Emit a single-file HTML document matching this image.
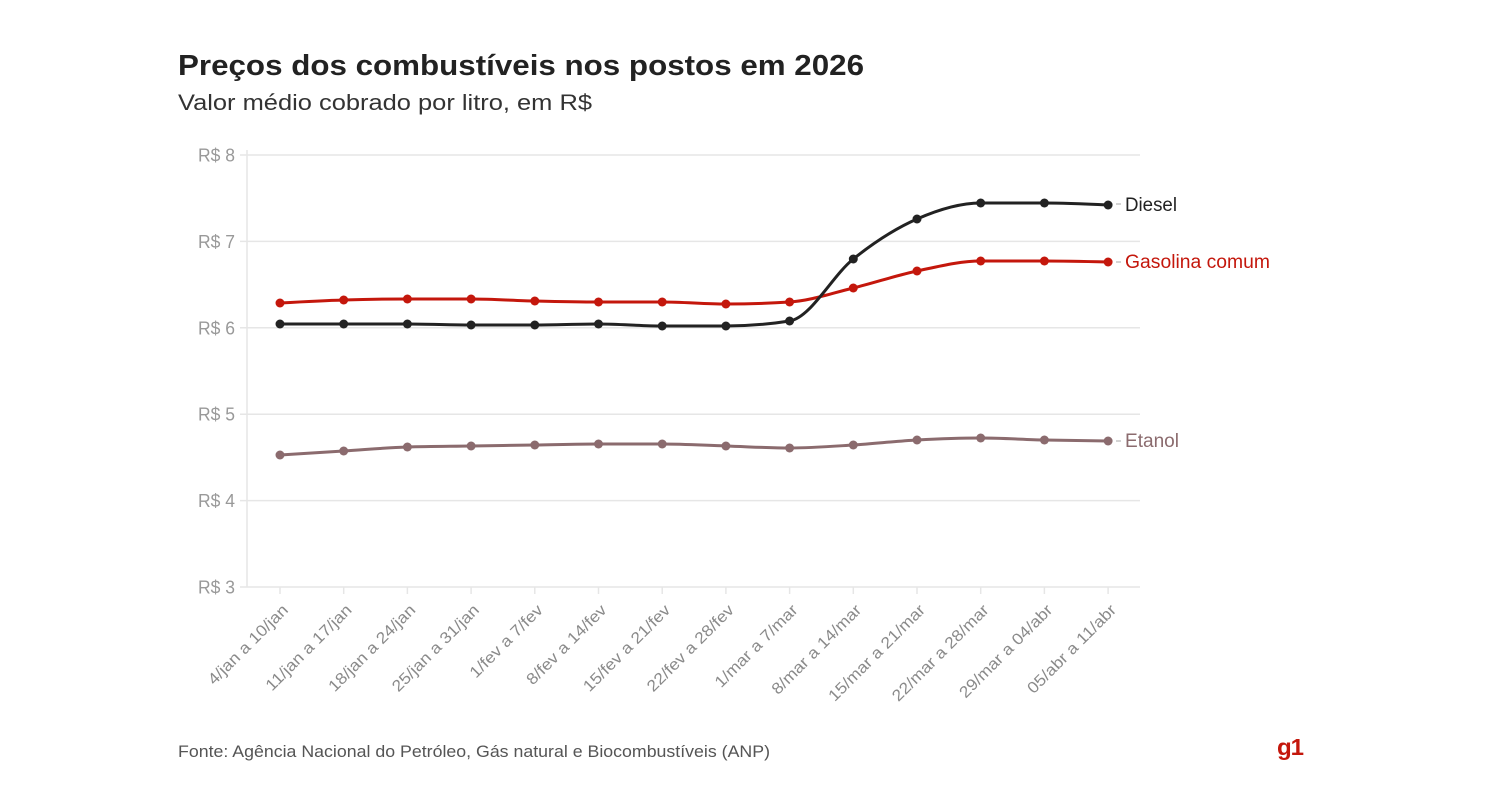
<!DOCTYPE html>
<html><head><meta charset="utf-8">
<style>
html,body{margin:0;padding:0;background:#fff;}
svg{display:block;}
text{font-family:"Liberation Sans",sans-serif;}
</style></head>
<body>
<svg id="c" width="1493" height="800" viewBox="0 0 1493 800" xmlns="http://www.w3.org/2000/svg">
<rect width="1493" height="800" fill="#fff"/>
<text id="t1" x="178" y="75" font-size="29" font-weight="bold" fill="#222" data-w="686">Preços dos combustíveis nos postos em 2026</text>
<text id="t2" x="178" y="110" font-size="22" fill="#333" data-w="414">Valor médio cobrado por litro, em R$</text>

<g stroke="#e6e6e6" stroke-width="1.5" fill="none">
<line x1="240" y1="155" x2="1140" y2="155"/>
<line x1="240" y1="241.4" x2="1140" y2="241.4"/>
<line x1="240" y1="327.8" x2="1140" y2="327.8"/>
<line x1="240" y1="414.2" x2="1140" y2="414.2"/>
<line x1="240" y1="500.6" x2="1140" y2="500.6"/>
<line x1="240" y1="587" x2="1140" y2="587"/>
<line x1="247" y1="150" x2="247" y2="587"/>
</g>
<g id="xticks" stroke="#e6e6e6" stroke-width="1.5"></g>

<g font-size="18" fill="#999" text-anchor="end">
<text x="235" y="161.5" data-w="37">R$ 8</text>
<text x="235" y="247.9" data-w="37">R$ 7</text>
<text x="235" y="334.3" data-w="37">R$ 6</text>
<text x="235" y="420.7" data-w="37">R$ 5</text>
<text x="235" y="507.1" data-w="37">R$ 4</text>
<text x="235" y="593.5" data-w="37">R$ 3</text>
</g>

<g id="xlabels" font-size="16" fill="#8a8a8a" text-anchor="end">
<text>4/jan a 10/jan</text>
<text>11/jan a 17/jan</text>
<text>18/jan a 24/jan</text>
<text>25/jan a 31/jan</text>
<text>1/fev a 7/fev</text>
<text>8/fev a 14/fev</text>
<text>15/fev a 21/fev</text>
<text>22/fev a 28/fev</text>
<text>1/mar a 7/mar</text>
<text>8/mar a 14/mar</text>
<text>15/mar a 21/mar</text>
<text>22/mar a 28/mar</text>
<text>29/mar a 04/abr</text>
<text>05/abr a 11/abr</text>
</g>

<g id="series"></g>

<g font-size="19">
<line x1="1116" y1="204" x2="1121" y2="204" stroke="#aaa" stroke-width="1"/>
<text x="1125" y="211" fill="#222" data-w="52">Diesel</text>
<line x1="1116" y1="262" x2="1121" y2="262" stroke="#aaa" stroke-width="1"/>
<text x="1125" y="268" fill="#c4170c" data-w="145">Gasolina comum</text>
<line x1="1116" y1="441" x2="1121" y2="441" stroke="#aaa" stroke-width="1"/>
<text x="1125" y="447" fill="#8b6b6e" data-w="54">Etanol</text>
</g>

<text x="178" y="757" font-size="17" fill="#555" data-w="592">Fonte: Agência Nacional do Petróleo, Gás natural e Biocombustíveis (ANP)</text>
<text x="1277" y="755" font-size="23" font-weight="bold" fill="#c4170c" letter-spacing="-1" data-w="26">g1</text>
</svg>
<script>
(function(){
var NS="http://www.w3.org/2000/svg";
var svg=document.getElementById("c");
var xs=[];for(var i=0;i<14;i++)xs.push(280+i*63.7);
var tg=document.getElementById("xticks");
xs.forEach(function(x){var l=document.createElementNS(NS,"line");l.setAttribute("x1",x);l.setAttribute("x2",x);l.setAttribute("y1",587);l.setAttribute("y2",594);tg.appendChild(l);});
var labs=document.getElementById("xlabels").children;
for(var i=0;i<labs.length;i++){
  var t=labs[i];var ax=xs[i]+9,ay=611;
  t.setAttribute("x",ax);t.setAttribute("y",ay);
  t.setAttribute("transform","rotate(-45 "+ax+" "+ay+")");
  try{var w=t.getComputedTextLength();t.setAttribute("textLength",(w*1.1).toFixed(1));t.setAttribute("lengthAdjust","spacingAndGlyphs");}catch(e){}
}
var all=svg.querySelectorAll("text[data-w]");
for(var j=0;j<all.length;j++){var t=all[j];t.setAttribute("textLength",t.getAttribute("data-w"));t.setAttribute("lengthAdjust","spacingAndGlyphs");}
var data={
 etanol:{c:"#8b6b6e",v:[455,451,447,446,445,444,444,446,448,445,440,438,440,441]},
 gas:{c:"#c4170c",v:[303,300,299,299,301,302,302,304,302,288,271,261,261,262]},
 diesel:{c:"#222222",v:[324,324,324,325,325,324,326,326,321,259,219,203,203,205]}
};
function sign(x){return x<0?-1:1;}
function slope3(x0,y0,x1,y1,x2,y2){var h0=x1-x0,h1=x2-x1,s0=(y1-y0)/h0,s1=(y2-y1)/h1,p=(s0*h1+s1*h0)/(h0+h1);return (sign(s0)+sign(s1))*Math.min(Math.abs(s0),Math.abs(s1),0.5*Math.abs(p))||0;}
function path(ys){
 var n=ys.length,t=[];
 for(var i=1;i<n-1;i++)t[i]=slope3(xs[i-1],ys[i-1],xs[i],ys[i],xs[i+1],ys[i+1]);
 var h=xs[1]-xs[0];t[0]=(3*(ys[1]-ys[0])/h-t[1])/2;
 h=xs[n-1]-xs[n-2];t[n-1]=(3*(ys[n-1]-ys[n-2])/h-t[n-2])/2;
 var d="M"+xs[0]+","+ys[0];
 for(var i=0;i<n-1;i++){var dx=(xs[i+1]-xs[i])/3;
  d+="C"+(xs[i]+dx)+","+(ys[i]+dx*t[i])+" "+(xs[i+1]-dx)+","+(ys[i+1]-dx*t[i+1])+" "+xs[i+1]+","+ys[i+1];}
 return d;
}
var sg=document.getElementById("series");
["etanol","gas","diesel"].forEach(function(k){
 var s=data[k];var p=document.createElementNS(NS,"path");
 p.setAttribute("d",path(s.v));p.setAttribute("fill","none");p.setAttribute("stroke",s.c);p.setAttribute("stroke-width","3");p.setAttribute("stroke-linejoin","round");
 sg.appendChild(p);
 s.v.forEach(function(y,i){var c=document.createElementNS(NS,"circle");c.setAttribute("cx",xs[i]);c.setAttribute("cy",y);c.setAttribute("r","4.5");c.setAttribute("fill",s.c);sg.appendChild(c);});
});
})();
</script>
</body></html>
